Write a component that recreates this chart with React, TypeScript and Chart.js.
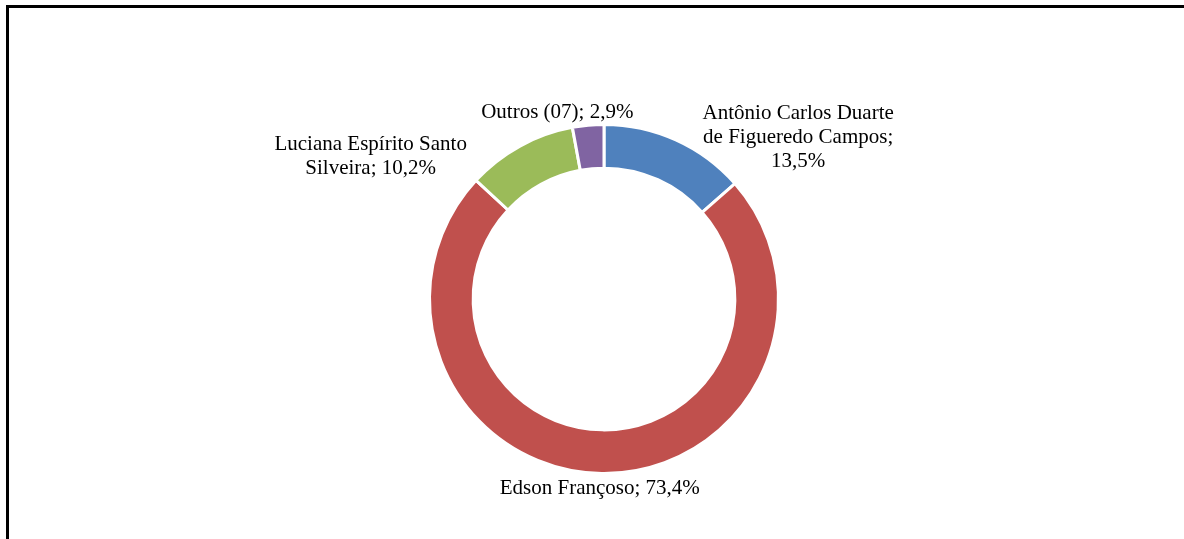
import React, { useEffect, useRef } from "react";
import { Chart, registerables } from "chart.js";

Chart.register(...registerables);

const categories = [
  "Antônio Carlos Duarte de Figueredo Campos",
  "Edson Françoso",
  "Luciana Espírito Santo Silveira",
  "Outros (07)",
];
const values = [13.5, 73.4, 10.2, 2.9];
const colors = ["#4F81BD", "#C0504D", "#9BBB59", "#8064A2"];
// label line wrapping (text only)
const labelLines = [
  ["Antônio Carlos Duarte", "de Figueredo Campos;", "13,5%"],
  ["Edson Françoso; 73,4%"],
  ["Luciana Espírito Santo", "Silveira; 10,2%"],
  ["Outros (07); 2,9%"],
];
// label offsets from each arc's outer mid point (px)
const labelOffsets = [
  { dx: 123, dy: -22 },
  { dx: -2, dy: 22 },
  { dx: -150, dy: 3 },
  { dx: -31, dy: -9 },
];

const W = 1184;
const H = 539;
const FONT = '21px "Liberation Serif", "Times New Roman", serif';
const LINE_H = 24;

const framePlugin = {
  id: "frame",
  beforeDraw(chart: any) {
    const ctx = chart.ctx;
    ctx.save();
    ctx.fillStyle = "#fff";
    ctx.fillRect(0, 0, W, H);
    ctx.fillStyle = "#000";
    ctx.fillRect(6, 5, W - 6, 3);
    ctx.fillRect(6, 5, 3, H - 5);
    ctx.restore();
  },
};

const labelPlugin = {
  id: "outerLabels",
  afterDatasetsDraw(chart: any) {
    const ctx = chart.ctx;
    const meta = chart.getDatasetMeta(0);
    ctx.save();
    ctx.font = FONT;
    ctx.fillStyle = "#000";
    ctx.textAlign = "center";
    ctx.textBaseline = "alphabetic";
    meta.data.forEach((arc: any, i: number) => {
      const { x, y, startAngle, endAngle, outerRadius } = arc.getProps(
        ["x", "y", "startAngle", "endAngle", "outerRadius"],
        true
      );
      const mid = (startAngle + endAngle) / 2;
      const r = outerRadius - 1.5;
      const px = x + Math.cos(mid) * r + labelOffsets[i].dx;
      const py = y + Math.sin(mid) * r + labelOffsets[i].dy;
      labelLines[i].forEach((line, j) => {
        ctx.fillText(line, px, py + j * LINE_H);
      });
    });
    ctx.restore();
  },
};

export default function App() {
  const ref = useRef<HTMLCanvasElement>(null);
  useEffect(() => {
    const canvas = ref.current;
    if (!canvas) return;
    const chart = new Chart(canvas, {
      type: "doughnut",
      data: {
        labels: categories,
        datasets: [
          {
            data: values,
            backgroundColor: colors,
            borderColor: "#ffffff",
            borderWidth: 3,
            hoverOffset: 0,
          },
        ],
      },
      options: {
        responsive: false,
        animation: false,
        devicePixelRatio: 1,
        events: [],
        radius: 174.5,
        cutout: "75%",
        layout: { padding: { left: 224, right: 200, top: 100, bottom: 41 } },
        plugins: {
          legend: { display: false },
          tooltip: { enabled: false },
        },
      } as any,
      plugins: [framePlugin, labelPlugin],
    });
    return () => chart.destroy();
  }, []);
  return (
    <div style={{ position: "absolute", left: 0, top: 0, width: W, height: H, background: "#fff" }}>
      <canvas ref={ref} width={W} height={H} style={{ display: "block", width: W, height: H }} />
    </div>
  );
}
